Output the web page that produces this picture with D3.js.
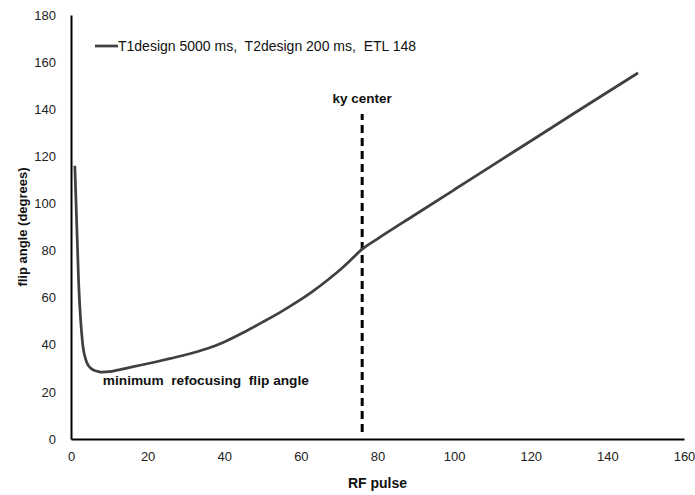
<!DOCTYPE html>
<html>
<head>
<meta charset="utf-8">
<script src="https://cdn.jsdelivr.net/npm/d3@7"></script>
<style>
  body { margin: 0; background: #fff; }
  text { font-family: 'Liberation Sans', Arial, sans-serif; }
</style>
</head>
<body>
<div id="chart"></div>
<script>
// RF pulse number vs refocusing flip angle
const pulses = [1, 2, 3, 4, 5, 6, 7, 8, 10, 12, 14, 18, 22, 26, 31, 36, 40, 45, 50, 55, 59, 63, 67, 70, 73, 76, 80, 90, 100, 110, 120, 130, 140, 148]
const flipAngles = [116, 66, 41, 33, 30.3, 29.2, 28.7, 28.4, 28.6, 29.2, 29.9, 31.3, 32.7, 34.2, 36.2, 38.6, 41.2, 45.2, 49.6, 54.2, 58.2, 62.6, 67.5, 71.5, 76, 80.6, 85, 95.4, 105.8, 116.2, 126.5, 136.9, 147.2, 155.4]

const xTicks = [0, 20, 40, 60, 80, 100, 120, 140, 160]
const yTicks = [0, 20, 40, 60, 80, 100, 120, 140, 160, 180]

const seriesLabel = 'T1design 5000 ms,  T2design 200 ms,  ETL 148'
const kyCenter = 76
const kyRange = [3, 138]

const data = pulses.map((p, i) => ({ x: p, y: flipAngles[i] }))

let margin = {top: 15, right: 11, bottom: 56, left: 71},
    width = 695 - margin.left - margin.right,
    height = 495 - margin.top - margin.bottom

let x = d3.scaleLinear().domain([0, 160]).range([0, width])
let y = d3.scaleLinear().domain([0, 180]).range([height, 0])

let svg = d3.select('#chart').append('svg')
            .attr('width', 695)
            .attr('height', 495)
            .append('g')
            .attr('transform', 'translate(' + margin.left + ',' + margin.top + ')')

let xAxis = d3.axisBottom(x).tickValues(xTicks).tickSize(0).tickPadding(13)
let yAxis = d3.axisLeft(y).tickValues(yTicks).tickSize(0).tickPadding(15)

let gx = svg.append('g')
   .attr('transform', 'translate(0,' + height + ')')
   .call(xAxis)
let gy = svg.append('g').call(yAxis)

;[gx, gy].forEach(g => {
  g.select('.domain').attr('stroke', '#000').attr('stroke-width', 2)
  g.selectAll('text').attr('font-size', 13).attr('fill', '#222')
    .style('font-family', "'Liberation Sans', Arial, sans-serif")
})

// axis titles
svg.append('text')
   .attr('transform', 'rotate(-90)')
   .attr('x', -height / 2)
   .attr('y', -44)
   .attr('text-anchor', 'middle')
   .attr('font-size', 13)
   .attr('font-weight', 'bold')
   .attr('fill', '#111')
   .text('flip angle (degrees)')

svg.append('text')
   .attr('x', width / 2)
   .attr('y', height + 49)
   .attr('text-anchor', 'middle')
   .attr('font-size', 14)
   .attr('font-weight', 'bold')
   .attr('fill', '#111')
   .text('RF pulse')

// ky center marker
svg.append('line')
   .attr('x1', x(kyCenter)).attr('x2', x(kyCenter))
   .attr('y1', y(kyRange[0])).attr('y2', y(kyRange[1]))
   .attr('stroke', '#000')
   .attr('stroke-width', 3)
   .attr('stroke-dasharray', '8,5')

svg.append('text')
   .attr('x', x(kyCenter))
   .attr('y', y(kyRange[1]) - 11)
   .attr('text-anchor', 'middle')
   .attr('font-size', 13.5)
   .attr('font-weight', 'bold')
   .attr('fill', '#111')
   .text('ky center')

// flip angle curve
let line = d3.line().x(d => x(d.x)).y(d => y(d.y)).curve(d3.curveMonotoneX)

svg.append('path')
   .datum(data)
   .attr('fill', 'none')
   .attr('stroke', '#404040')
   .attr('stroke-width', 2.75)
   .attr('d', line)

svg.append('text')
   .attr('x', x(8.3))
   .attr('y', y(28) + 12)
   .attr('font-size', 13.7)
   .attr('font-weight', 'bold')
   .attr('fill', '#111')
   .style('white-space', 'pre')
   .text('minimum  refocusing  flip angle')

// legend
let legend = svg.append('g').attr('transform', 'translate(24,31)')
legend.append('line')
   .attr('x1', 0).attr('x2', 23)
   .attr('stroke', '#404040')
   .attr('stroke-width', 2.75)
legend.append('text')
   .attr('x', 23)
   .attr('y', 5)
   .attr('font-size', 14)
   .attr('fill', '#111')
   .style('white-space', 'pre')
   .text(seriesLabel)
</script>
</body>
</html>
